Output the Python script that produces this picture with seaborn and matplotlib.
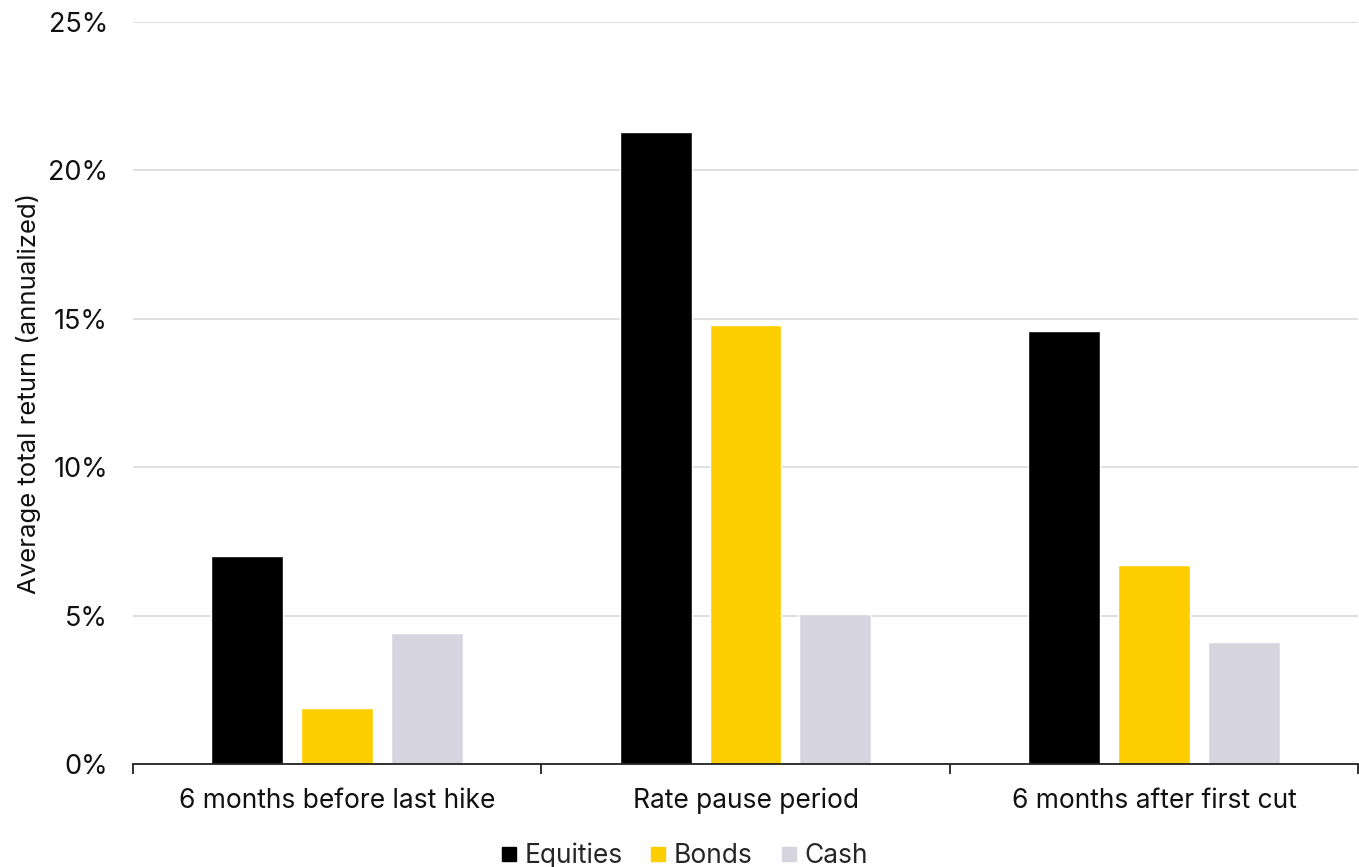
import matplotlib
matplotlib.use("Agg")
import matplotlib.pyplot as plt
from matplotlib.ticker import PercentFormatter, MultipleLocator
from matplotlib.lines import Line2D
import seaborn as sns
import pandas as pd

periods = ["6 months before last hike", "Rate pause period", "6 months after first cut"]
assets = ["Equities", "Bonds", "Cash"]
equities = [7.0, 21.3, 14.6]
bonds = [1.9, 14.8, 6.7]
cash = [4.4, 5.05, 4.1]
colors = ["#000000", "#FFCE00", "#D6D5DF"]

df = pd.DataFrame({
    "period": periods * 3,
    "asset": [a for a in assets for _ in periods],
    "value": equities + bonds + cash,
})

sns.set_theme(style="white")
plt.rcParams["font.family"] = ["Inter", "DejaVu Sans"]

fig = plt.figure(figsize=(13.59, 8.67), dpi=100)
ax = fig.add_axes([0.0979, 0.1188, 0.9014, 0.8558])

sns.barplot(data=df, x="period", y="value", hue="asset", order=periods,
            hue_order=assets, palette=colors, width=0.66, gap=0.2,
            saturation=1, legend=False, ax=ax)

ax.set_ylim(0, 25)
ax.set_xlim(-0.5, 2.5)
ax.yaxis.set_major_locator(MultipleLocator(5))
ax.yaxis.set_major_formatter(PercentFormatter(decimals=0))
ax.grid(axis="y", color="#D9D9D9", linewidth=1.2)
ax.set_axisbelow(True)

for s in ["left", "right", "top"]:
    ax.spines[s].set_visible(False)
ax.spines["bottom"].set_color("#222222")
ax.spines["bottom"].set_linewidth(1.3)

ax.set_xticks(range(len(periods)))
ax.set_xticklabels(periods)
ax.set_xticks([-0.5, 0.5, 1.5, 2.5], minor=True)
ax.tick_params(axis="x", which="major", length=0, pad=17, labelsize=19, colors="#111111")
ax.tick_params(axis="x", which="minor", length=7, width=1.3, color="#222222", bottom=True)
ax.tick_params(axis="y", length=0, pad=18, labelsize=19.5, colors="#111111")

ax.set_xlabel("")
ax.set_ylabel("Average total return (annualized)", fontsize=18.5, color="#111111", labelpad=5)

handles = [Line2D([0], [0], marker="s", linestyle="none", markersize=10.5,
                  markerfacecolor=c, markeredgecolor=c) for c in colors]
fig.legend(handles, assets, loc="lower center", bbox_to_anchor=(0.503, -0.03),
           ncol=3, frameon=False, fontsize=19, handletextpad=0.25,
           columnspacing=1.0, handlelength=0.7)

fig.savefig("out.png", dpi=100)
